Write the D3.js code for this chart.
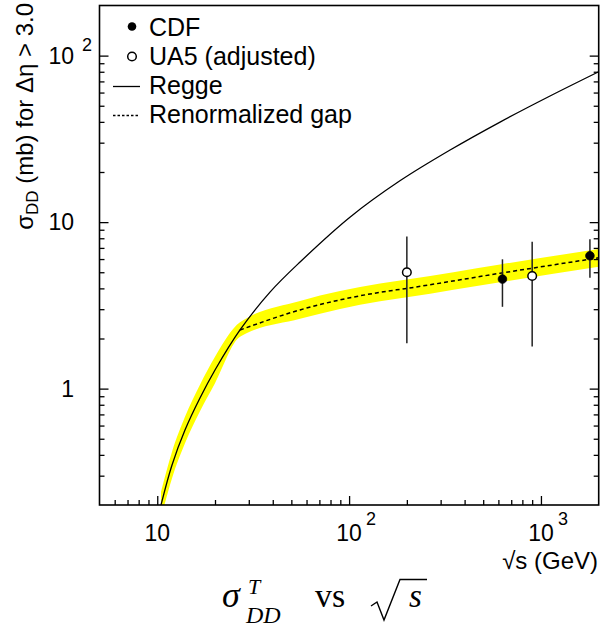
<!DOCTYPE html>
<html><head><meta charset="utf-8">
<script src="https://cdn.jsdelivr.net/npm/d3@7"></script>
<style>body{margin:0;background:#fff}</style>
</head><body>
<svg id="c" width="608" height="633"></svg>
<script>
// ---- data ----
const reggeS = [10.46, 11.94, 13.95, 16.7, 20, 27, 38.7, 55.5, 101, 184, 336, 612, 1115, 2000];
const reggeV = [0.2, 0.348, 0.564, 0.878, 1.293, 2.25, 3.8, 5.76, 10.7, 17.7, 27.1, 39.9, 57.2, 80];
const gapS  = [10.46, 11.94, 13.95, 16.7, 20, 27, 55.5, 145, 200, 612, 2000];
const gapV  = [0.2, 0.348, 0.564, 0.878, 1.293, 2.25, 2.97, 3.79, 4.0, 4.93, 6.1];
const bandLo = [0.167, 0.29, 0.47, 0.732, 1.078, 2.05, 2.63, 3.35, 3.54, 4.36, 5.4];
const bandHi = [0.24, 0.418, 0.677, 1.054, 1.552, 2.5, 3.36, 4.28, 4.52, 5.57, 6.9];
const cdfS = [630, 1800], cdfV = [4.55, 6.28], cdfLo = [3.1, 4.63], cdfHi = [5.98, 7.88];
const ua5S = [200, 900], ua5V = [5.0, 4.75], ua5Lo = [1.87, 1.79], ua5Hi = [8.2, 7.63];
const xMajor = [10, 100, 1000], xExp = ["", "2", "3"];
const yMajor = [1, 10, 100], yExp = ["", "", "2"];
const xMinor = [6,7,8,9,20,30,40,50,60,70,80,90,200,300,400,500,600,700,800,900];
const yMinor = [0.3,0.4,0.5,0.6,0.7,0.8,0.9,2,3,4,5,6,7,8,9,20,30,40,50,60,70,80,90];
const legendLabels = ["CDF", "UA5 (adjusted)", "Regge", "Renormalized gap"];
const kinkS = 27;

// ---- layout ----
const L = 99.5, R = 598.7, T = 5.5, B = 505;
const svg = d3.select("#c");
const x = d3.scaleLog().domain([5, 2000]).range([L, R]);
const y = d3.scaleLog().domain([0.2, 200]).range([B, T]);
const sans = "Liberation Sans, Arial, sans-serif";

svg.append("clipPath").attr("id","clip").append("rect")
  .attr("x", L).attr("y", T).attr("width", R-L).attr("height", B-T);
const plot = svg.append("g").attr("clip-path","url(#clip)");

// band
const band = gapS.map((s,i)=>({s, lo: bandLo[i], hi: bandHi[i]}));
plot.append("path").datum(band)
  .attr("fill", "#ffff00").attr("stroke","none")
  .attr("d", d3.area().x(d=>x(d.s)).y0(d=>y(d.lo)).y1(d=>y(d.hi)).curve(d3.curveMonotoneX));

// regge
plot.append("path").datum(reggeS.map((s,i)=>[s, reggeV[i]]))
  .attr("fill","none").attr("stroke","#000").attr("stroke-width",1.3)
  .attr("d", d3.line().x(d=>x(d[0])).y(d=>y(d[1])).curve(d3.curveCatmullRom.alpha(0.5)));

// gap dashed (after kink); below the kink it coincides with Regge
plot.append("path").datum(gapS.map((s,i)=>[s, gapV[i]]).filter(d=>d[0]>=kinkS))
  .attr("fill","none").attr("stroke","#000").attr("stroke-width",1.5)
  .attr("stroke-dasharray","4,3")
  .attr("d", d3.line().x(d=>x(d[0])).y(d=>y(d[1])).curve(d3.curveMonotoneX));

// error bars + markers
const pts = cdfS.map((s,i)=>({s, v:cdfV[i], lo:cdfLo[i], hi:cdfHi[i], open:false}))
  .concat(ua5S.map((s,i)=>({s, v:ua5V[i], lo:ua5Lo[i], hi:ua5Hi[i], open:true})));
plot.selectAll(".eb").data(pts).enter().append("line")
  .attr("x1", d=>x(d.s)).attr("x2", d=>x(d.s))
  .attr("y1", d=>y(d.lo)).attr("y2", d=>y(d.hi))
  .attr("stroke","#222").attr("stroke-width",1.5);
plot.selectAll(".mk").data(pts).enter().append("circle")
  .attr("cx", d=>x(d.s)).attr("cy", d=>y(d.v))
  .attr("r", 4.3)
  .attr("fill", d=>d.open?"#fff":"#000")
  .attr("stroke","#000").attr("stroke-width", d=>d.open?1.5:0.8);

// frame
svg.append("rect").attr("x",L).attr("y",T).attr("width",R-L).attr("height",B-T)
  .attr("fill","none").attr("stroke","#000").attr("stroke-width",1.6);

// ticks via axes
function axisG(gen, tx, ty){
  const g = svg.append("g").attr("transform",`translate(${tx},${ty})`).call(gen);
  g.select(".domain").remove();
  g.selectAll("text").remove();
  g.selectAll("line").attr("stroke","#000").attr("stroke-width",1.3);
  return g;
}
axisG(d3.axisBottom(x).tickValues(xMajor).tickSize(-9).tickFormat(""), 0, B);
axisG(d3.axisBottom(x).tickValues(xMinor).tickSize(-5).tickFormat(""), 0, B);
axisG(d3.axisLeft(y).tickValues(yMajor).tickSize(-9).tickFormat(""), L, 0);
axisG(d3.axisLeft(y).tickValues(yMinor).tickSize(-5).tickFormat(""), L, 0);
axisG(d3.axisRight(y).tickValues(yMajor).tickSize(-9).tickFormat(""), R, 0);
axisG(d3.axisRight(y).tickValues(yMinor).tickSize(-5).tickFormat(""), R, 0);

// x tick labels
xMajor.forEach((v,i)=>{
  svg.append("text").attr("x", x(v)).attr("y", 541).attr("text-anchor","middle")
    .attr("font-family",sans).attr("font-size",23).text("10");
  if (xExp[i]) svg.append("text").attr("x", x(v)+17).attr("y", 525)
    .attr("font-family",sans).attr("font-size",18).text(xExp[i]);
});
// y tick labels
yMajor.forEach((v,i)=>{
  svg.append("text").attr("x", 74).attr("y", y(v)+8).attr("text-anchor","end")
    .attr("font-family",sans).attr("font-size",23).text(v===1?"1":"10");
  if (yExp[i]) svg.append("text").attr("x", 82).attr("y", y(v)-5)
    .attr("font-family",sans).attr("font-size",18).text(yExp[i]);
});

// axis titles
svg.append("text").attr("x", 598).attr("y", 569).attr("text-anchor","end")
  .attr("font-family",sans).attr("font-size",24).text("\u221As (GeV)");
const yt = svg.append("text").attr("transform","translate(33,3) rotate(-90)")
  .attr("text-anchor","end").attr("font-family",sans).attr("font-size",24);
yt.append("tspan").text("\u03C3");
yt.append("tspan").attr("font-size",17).attr("dy",5).text("DD");
yt.append("tspan").attr("dy",-5).text(" (mb) for \u0394\u03B7 > 3.0");

// legend
const lg = svg.append("g");
const ly = [35.5, 64.5, 93.5, 122.5];
legendLabels.forEach((t,i)=>{
  lg.append("text").attr("x",149).attr("y",ly[i]).attr("font-family",sans)
    .attr("font-size",25).text(t);
});
lg.append("circle").attr("cx",132).attr("cy",ly[0]-9).attr("r",4.3).attr("fill","#000");
lg.append("circle").attr("cx",132).attr("cy",ly[1]-8).attr("r",4.3).attr("fill","#fff")
  .attr("stroke","#000").attr("stroke-width",1.5);
lg.append("line").attr("x1",113).attr("x2",140).attr("y1",ly[2]-7).attr("y2",ly[2]-7)
  .attr("stroke","#000").attr("stroke-width",1.3);
lg.append("line").attr("x1",113).attr("x2",140).attr("y1",ly[3]-7).attr("y2",ly[3]-7)
  .attr("stroke","#000").attr("stroke-width",1.3).attr("stroke-dasharray","2.5,2");

// title sigma^T_DD vs sqrt(s)  (one text element)
const serif = "Liberation Serif, Times New Roman, serif";
const tt = svg.append("text").attr("font-family",serif);
tt.append("tspan").attr("x",222).attr("y",607).attr("font-style","italic")
  .attr("font-size",36).text("\u03C3");
tt.append("tspan").attr("x",248).attr("y",594).attr("font-style","italic")
  .attr("font-size",22).text("T");
tt.append("tspan").attr("x",246).attr("y",623).attr("font-style","italic")
  .attr("font-size",24).text("DD");
tt.append("tspan").attr("x",315).attr("y",607)
  .attr("font-size",34).text("vs");
tt.append("tspan").attr("x",409).attr("y",607).attr("font-style","italic")
  .attr("font-size",33).text("s");
svg.append("path").attr("d","M371,606 L377,602 L384,620 L400,579.5 L427,579.5")
  .attr("fill","none").attr("stroke","#000").attr("stroke-width",1.4)
  .attr("stroke-linejoin","miter");
</script>
</body></html>
